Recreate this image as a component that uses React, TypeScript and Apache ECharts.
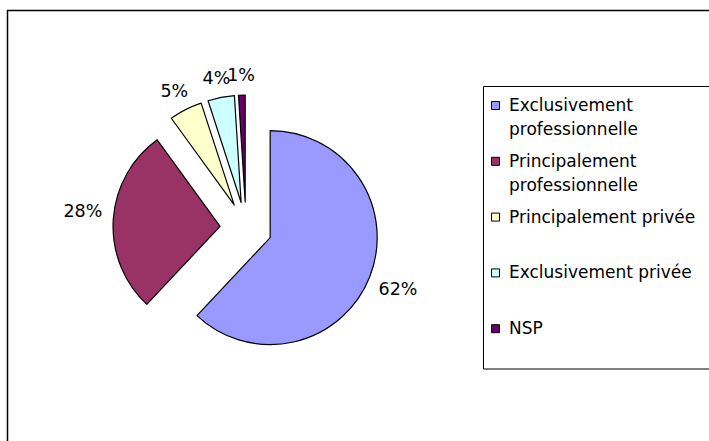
import React, { useEffect, useRef } from "react";
import * as echarts from "echarts";

const categories = [
  "Exclusivement professionnelle",
  "Principalement professionnelle",
  "Principalement privée",
  "Exclusivement privée",
  "NSP",
];
const legendLabels = [
  "Exclusivement\nprofessionnelle",
  "Principalement\nprofessionnelle",
  "Principalement privée",
  "Exclusivement privée",
  "NSP",
];
const values = [62, 28, 5, 4, 1];
const colors = ["#9999FF", "#993366", "#FFFFCC", "#CCFFFF", "#660066"];

const FONT = "'DejaVu Sans', 'Liberation Sans', Arial, sans-serif";
const PIE_CENTER = [246, 228];
const LABEL_GAP = 11;

export default function App() {
  const ref = useRef<HTMLDivElement>(null);

  useEffect(() => {
    if (!ref.current) return;
    const chart = echarts.init(ref.current, undefined, { renderer: "svg" });

    const legendTop = 105;
    const legendStep = 55.8;
    const legendGraphics: any[] = [];
    legendLabels.forEach((name, i) => {
      const cy = legendTop + i * legendStep;
      legendGraphics.push({
        type: "rect",
        shape: { x: 491.5, y: cy - 3.5, width: 8, height: 8 },
        style: { fill: colors[i], stroke: "#000", lineWidth: 1 },
        z: 10,
      });
      legendGraphics.push({
        type: "text",
        x: 509,
        y: cy - 12,
        style: {
          text: name,
          fontFamily: FONT,
          fontSize: 17,
          lineHeight: 24,
          fill: "#000",
          verticalAlign: "top",
          align: "left",
        },
        z: 10,
      });
    });

    const option: any = {
      animation: false,
      backgroundColor: "#fff",
      graphic: [
        {
          type: "rect",
          shape: { x: 7.5, y: 10.5, width: 800, height: 500 },
          style: { fill: "none", stroke: "#000", lineWidth: 1.5 },
          z: 0,
        },
        {
          type: "rect",
          shape: { x: 483.5, y: 86.5, width: 300, height: 282.5 },
          style: { fill: "#fff", stroke: "#000", lineWidth: 1 },
          z: 5,
        },
        ...legendGraphics,
      ],
      series: [
        {
          type: "pie",
          center: PIE_CENTER,
          radius: 107,
          startAngle: 90,
          clockwise: true,
          selectedMode: "multiple",
          selectedOffset: 26,
          avoidLabelOverlap: false,
          emphasis: { disabled: true },
          data: categories.map((name, i) => ({
            name,
            value: values[i],
            selected: true,
            itemStyle: { color: colors[i] },
          })),
          itemStyle: { borderColor: "#000", borderWidth: 1.2 },
          label: {
            show: true,
            position: "outside",
            formatter: (p: any) => `${Math.round(p.percent)}%`,
            color: "#000",
            fontFamily: FONT,
            fontSize: 17.5,
          },
          labelLine: { show: false, length: LABEL_GAP, length2: 0 },
          labelLayout: (params: any) => {
            const pts = params.labelLinePoints;
            const r = params.labelRect;
            let dx0: number, dy0: number;
            if (pts && pts.length >= 2) {
              dx0 = pts[1][0] - pts[0][0];
              dy0 = pts[1][1] - pts[0][1];
            } else {
              dx0 = r.x + r.width / 2 - PIE_CENTER[0];
              dy0 = r.y + r.height / 2 - PIE_CENTER[1];
            }
            const len = Math.hypot(dx0, dy0) || 1;
            const ux = dx0 / len;
            const uy = dy0 / len;
            const w = r.width;
            const h = r.height;
            const sgn = ux < 0 ? -1 : 1;
            const sy = uy < 0 ? -1 : 1;
            return {
              dx: (ux * w) / 2 - sgn * (5 + w / 2),
              dy: (uy * h) / 2 + sy * 8 * (1 - Math.abs(uy)),
              moveOverlap: "shiftX",
            };
          },
        },
      ],
    };

    chart.setOption(option);
    return () => chart.dispose();
  }, []);

  return (
    <div
      ref={ref}
      style={{ position: "fixed", left: 0, top: 0, width: 709, height: 441 }}
    />
  );
}
